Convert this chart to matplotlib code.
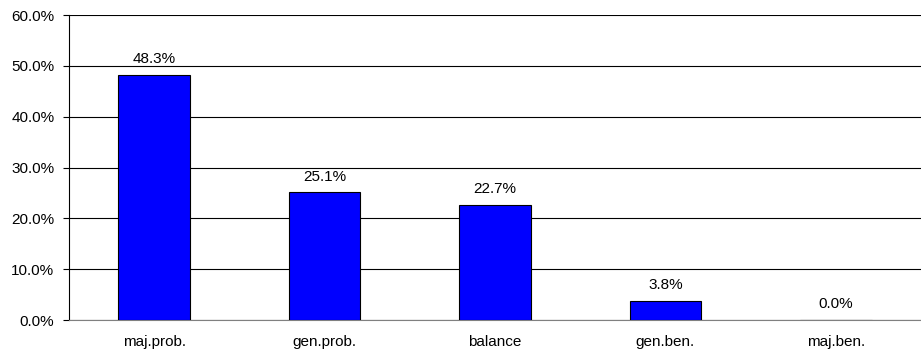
import matplotlib
matplotlib.use('Agg')
import numpy as np
import matplotlib.pyplot as plt
from matplotlib.ticker import FuncFormatter

categories = ['maj.prob.', 'gen.prob.', 'balance', 'gen.ben.', 'maj.ben.']
shares = [48.3, 25.1, 22.7, 3.8, 0.0]
y_ticks = [0, 10, 20, 30, 40, 50, 60]

plt.rcParams['font.family'] = ['Liberation Sans', 'DejaVu Sans']
plt.rcParams['font.size'] = 11

fig = plt.figure(figsize=(9.21, 3.57), dpi=100)
ax = fig.add_axes([0.0749, 0.1036, 0.9251, 0.8543])

x = np.arange(len(categories))
ax.bar(x, shares, width=0.42, color='#0000FF', edgecolor='black', linewidth=0.8, zorder=3)

# value labels above bars
for xi, v in zip(x, shares):
    ax.text(xi, v + 1.7, f'{v:.1f}%', ha='center', va='bottom', fontsize=11)

ax.set_xlim(-0.5, len(categories) - 0.5)
ax.set_ylim(0, 60)
ax.set_yticks(y_ticks)
ax.yaxis.set_major_formatter(FuncFormatter(lambda v, p: f'{v:.1f}%'))
ax.yaxis.grid(True, color='black', linewidth=0.8, zorder=0)
ax.set_axisbelow(True)

ax.set_xticks(x)
ax.set_xticklabels(categories)
ax.tick_params(axis='x', length=0, pad=11)
ax.tick_params(axis='y', length=4.5, width=0.8, direction='out', pad=6)

for s in ['top', 'right']:
    ax.spines[s].set_visible(False)
ax.spines['left'].set_linewidth(0.8)
ax.spines['bottom'].set_linewidth(0.8)
ax.spines['bottom'].set_color('#808080')

fig.savefig('out.png', dpi=100)
